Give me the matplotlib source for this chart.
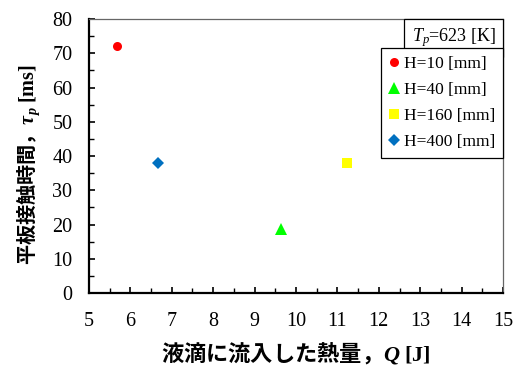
import matplotlib
matplotlib.use("Agg")
import matplotlib.pyplot as plt
from matplotlib.ticker import MultipleLocator

# data
labels = ["H=10 [mm]", "H=40 [mm]", "H=160 [mm]", "H=400 [mm]"]
q_vals = [5.69, 9.63, 11.23, 6.67]
tau_vals = [72.0, 18.6, 38.0, 38.0]
colors = ["#FF0000", "#00FF00", "#FFFF00", "#0070C0"]
markers = ["o", "^", "s", "D"]
msizes = [6.5, 8, 7.5, 6]
legend_title = r"$T_p$=623 [K]"
xlabel = r"液滴に流入した熱量，$\mathbfit{Q}$ $\mathbf{[J]}$"
ylabel = r"平板接触時間，$\mathbfit{\tau}_{\mathbfit{p}}$ $\mathbf{[ms]}$"

plt.rcParams["mathtext.fontset"] = "custom"
plt.rcParams["mathtext.rm"] = "Liberation Serif"
plt.rcParams["mathtext.it"] = "Liberation Serif:italic"
plt.rcParams["mathtext.bf"] = "Liberation Serif:bold"
plt.rcParams["mathtext.bfit"] = "Liberation Serif:italic:bold"

fig = plt.figure(figsize=(5.17, 3.70), dpi=100)
ax = fig.add_axes([0.172, 0.208, 0.801, 0.7405])

for x, y, c, m, s, l in zip(q_vals, tau_vals, colors, markers, msizes, labels):
    ax.plot([x], [y], linestyle="none", marker=m, color=c, markersize=s,
            markeredgewidth=0, label=l)

ax.set_xlim(5, 15)
ax.set_ylim(0, 80)
ax.xaxis.set_major_locator(MultipleLocator(1))
ax.xaxis.set_minor_locator(MultipleLocator(0.5))
ax.yaxis.set_major_locator(MultipleLocator(10))
ax.yaxis.set_minor_locator(MultipleLocator(5))
ax.tick_params(which="both", direction="in", top=False, right=False)
ax.tick_params(which="major", length=4, width=1.2, labelsize=14.5)
ax.tick_params(which="minor", length=3.5, width=1.0)
ax.tick_params(axis="x", which="major", pad=14)
ax.tick_params(axis="y", which="major", pad=12)
for lab in ax.get_xticklabels() + ax.get_yticklabels():
    lab.set_fontfamily("Liberation Serif")

for side in ["left", "bottom"]:
    ax.spines[side].set_linewidth(1.6)
    ax.spines[side].set_color("black")
for side in ["top", "right"]:
    ax.spines[side].set_linewidth(0.9)
    ax.spines[side].set_color("#666666")

ax.set_xlabel(xlabel, family=["Noto Sans CJK JP", "DejaVu Sans"], fontweight="bold",
              fontsize=16, labelpad=6)
ax.set_ylabel(ylabel, family=["Noto Sans CJK JP", "DejaVu Sans"], fontweight="bold",
              fontsize=14.5, labelpad=7)
ax.yaxis.label.set_y(0.467)

leg = ax.legend(loc="upper right", bbox_to_anchor=(1.0, 0.894), borderaxespad=0,
                frameon=True, fancybox=False, edgecolor="black", framealpha=1,
                prop={"family": "Liberation Serif", "size": 12.5},
                handlelength=0.6, handletextpad=0.3, labelspacing=0.56,
                borderpad=0.45, numpoints=1)
leg.get_frame().set_linewidth(0.9)

ax.annotate(legend_title, xy=(1.0, 1.0), xycoords="axes fraction",
            xytext=(-5.4, -5.2), textcoords="offset points", ha="right", va="top",
            family="Liberation Serif", fontsize=13,
            bbox=dict(boxstyle="square,pad=0.42", facecolor="white", edgecolor="black",
                      linewidth=0.9))

fig.savefig("out.png", dpi=100)
